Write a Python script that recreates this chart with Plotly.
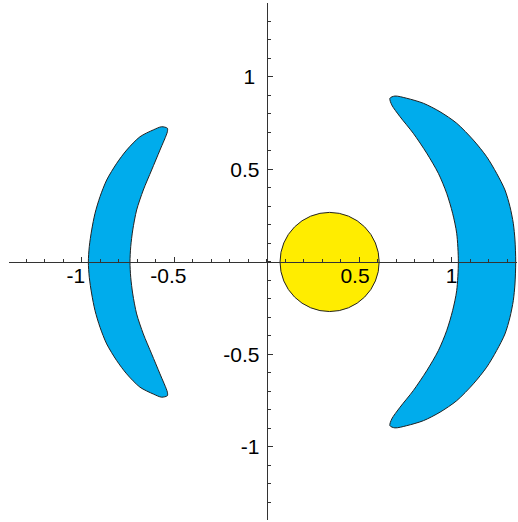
import plotly.graph_objects as go

# left crescent boundary (outer edge then inner edge)
left_x = [-0.537, -0.568, -0.613, -0.685, -0.757, -0.811, -0.865, -0.901,
          -0.928, -0.946, -0.959, -0.964,
          -0.959, -0.946, -0.928, -0.901, -0.865, -0.811, -0.757, -0.685,
          -0.613, -0.568, -0.537,
          -0.537, -0.577, -0.622, -0.667, -0.703, -0.724, -0.735, -0.739,
          -0.735, -0.724, -0.703, -0.667, -0.622, -0.577, -0.537]
left_y = [0.723, 0.731, 0.714, 0.677, 0.605, 0.533, 0.443, 0.353,
          0.263, 0.173, 0.083, 0.0,
          -0.083, -0.173, -0.263, -0.353, -0.443, -0.533, -0.605, -0.677,
          -0.714, -0.731, -0.723,
          -0.704, -0.605, -0.497, -0.389, -0.281, -0.173, -0.083, 0.0,
          0.083, 0.173, 0.281, 0.389, 0.497, 0.605, 0.704]

# right crescent boundary
right_x = [0.693, 0.757, 0.847, 0.937, 1.027, 1.117, 1.189, 1.243, 1.288,
           1.315, 1.333, 1.342, 1.346,
           1.342, 1.333, 1.315, 1.288, 1.243, 1.189, 1.117, 1.027, 0.937,
           0.847, 0.757, 0.693, 0.666,
           0.676, 0.721, 0.792, 0.865, 0.928, 0.973, 1.005, 1.027, 1.036,
           1.027, 1.005, 0.973, 0.928, 0.865, 0.792, 0.721, 0.676, 0.666]
right_y = [0.897, 0.885, 0.858, 0.812, 0.750, 0.659, 0.569, 0.479, 0.389,
           0.299, 0.209, 0.119, 0.0,
           -0.119, -0.209, -0.299, -0.389, -0.479, -0.569, -0.659, -0.750, -0.812,
           -0.858, -0.885, -0.897, -0.885,
           -0.849, -0.785, -0.696, -0.588, -0.479, -0.371, -0.263, -0.155, 0.0,
           0.155, 0.263, 0.371, 0.479, 0.588, 0.696, 0.785, 0.849, 0.885]

# yellow disc
disc_cx = 0.34
disc_cy = 0.0
disc_r = 0.268

tick_vals = [-1, -0.5, 0.5, 1]
# the trailing thin spaces nudge the labels left, as in the original
x_tick_text = ["-1\u2007", "-0.5\u2007", "0.5\u2009\u2009", "1"]
y_tick_text = ["-1", "-0.5", "0.5", "1\u2009"]

x_range = [-1.393, 1.353]
y_range = [-1.395, 1.40]

blue = "rgb(0,172,236)"
yellow = "rgb(255,237,0)"

fig = go.Figure()

for xs, ys in [(left_x, left_y), (right_x, right_y)]:
    fig.add_trace(go.Scatter(
        x=xs + xs[:1], y=ys + ys[:1],
        mode="lines", fill="toself", fillcolor=blue,
        line=dict(color="#222", width=1, shape="spline", smoothing=0.8),
        hoverinfo="skip", showlegend=False,
    ))

fig.add_shape(
    type="circle", xref="x", yref="y",
    x0=disc_cx - disc_r, x1=disc_cx + disc_r,
    y0=disc_cy - disc_r, y1=disc_cy + disc_r,
    fillcolor=yellow, line=dict(color="#222", width=1), layer="below",
)

axis_common = dict(
    tickvals=tick_vals,
    showgrid=False, zeroline=False,
    showline=True, linecolor="#333", linewidth=1,
    ticks="inside", ticklen=5, tickcolor="#333", tickwidth=1,
    minor=dict(tickmode="linear", tick0=0, dtick=0.1, ticks="inside",
               ticklen=3, tickcolor="#333", tickwidth=1, showgrid=False),
    tickfont=dict(family="Liberation Sans, Arial", size=21, color="black"),
    anchor="free",
    automargin=False,
)

fig.update_xaxes(
    range=x_range, ticktext=x_tick_text,
    position=(0 - y_range[0]) / (y_range[1] - y_range[0]),
    ticklabelstandoff=-5,
    **axis_common,
)
fig.update_yaxes(
    range=y_range, ticktext=y_tick_text,
    position=(0 - x_range[0]) / (x_range[1] - x_range[0]),
    ticklabelstandoff=3,
    **axis_common,
)

fig.update_layout(
    width=518, height=522,
    margin=dict(l=9, r=1, t=3, b=2),
    plot_bgcolor="white", paper_bgcolor="white",
)

fig.write_html("out.html", config={"displayModeBar": False},
               post_script="document.body.style.margin='0';")
